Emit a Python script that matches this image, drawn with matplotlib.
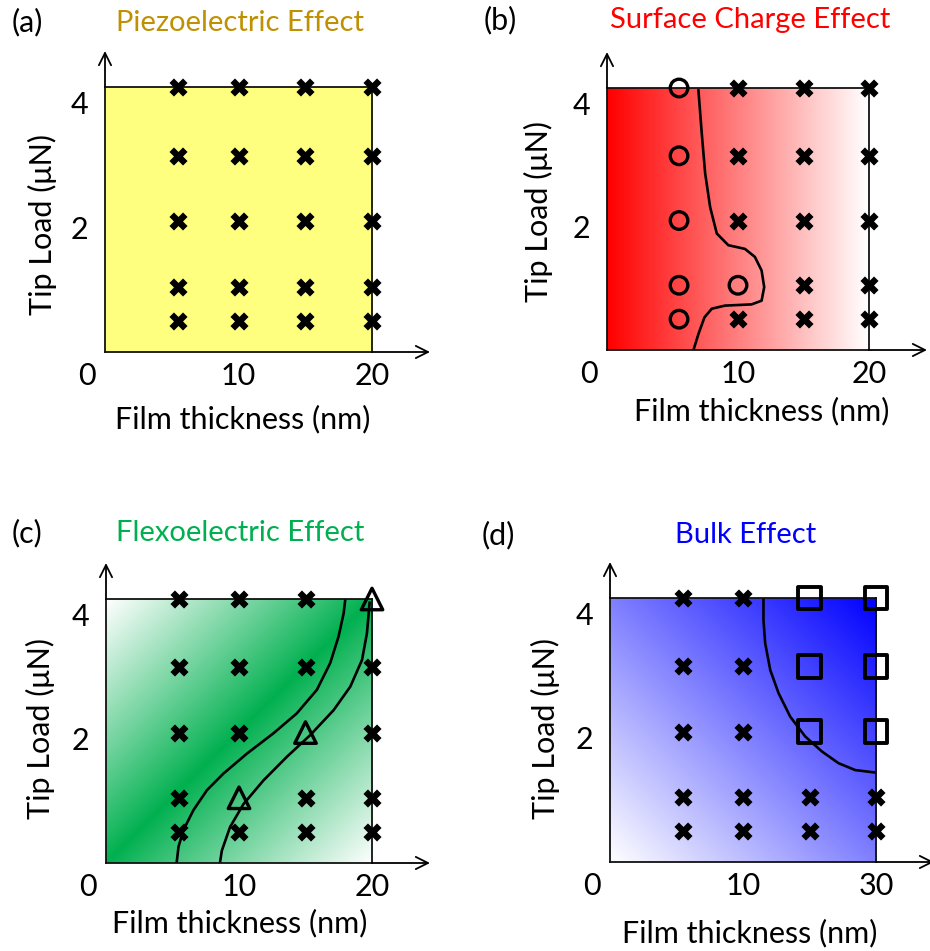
import numpy as np
import matplotlib.pyplot as plt

plt.rcParams['font.family'] = ['Lato', 'DejaVu Sans']
plt.rcParams['font.size'] = 22

# measurement grid (box spans 0..20 horizontally, 0..4.25 vertically)
thickness = [5.5, 10, 15, 20]
loads = [4.25, 3.15, 2.1, 1.05, 0.5]   # top row first

# outcome at every grid point: x = no effect, o / ^ / s = effect observed
marks_a = ["xxxx", "xxxx", "xxxx", "xxxx", "xxxx"]
marks_b = ["oxxx", "oxxx", "oxxx", "ooxx", "oxxx"]
marks_c = ["xxx^", "xxxx", "xx^x", "x^xx", "xxxx"]
marks_d = ["xxss", "xxss", "xxss", "xxxx", "xxxx"]

# phase boundaries
bound_b_x = [6.98, 7.23, 7.49, 7.87, 8.38, 9.26, 10.53, 11.29, 11.8, 12.0, 11.8, 11.04, 9.0, 8.0, 7.44, 6.98, 6.6]
bound_b_y = [4.21, 3.52, 2.87, 2.32, 1.89, 1.70, 1.64, 1.51, 1.29, 1.02, 0.80, 0.74, 0.72, 0.67, 0.53, 0.26, 0.0]

bound_c1_x = [5.32, 5.45, 5.82, 6.57, 7.58, 8.83, 10.59, 12.6, 14.35, 15.86, 16.86, 17.49, 17.87, 17.99]
bound_c1_y = [0.02, 0.26, 0.53, 0.85, 1.17, 1.44, 1.76, 2.09, 2.41, 2.79, 3.22, 3.65, 4.02, 4.24]
bound_c2_x = [8.58, 8.71, 9.33, 10.34, 11.84, 13.6, 15.36, 17.11, 18.37, 19.25, 19.62, 19.82]
bound_c2_y = [0.02, 0.2, 0.58, 0.95, 1.33, 1.71, 2.06, 2.46, 2.84, 3.27, 3.7, 4.19]

bound_d_x = [11.54, 11.54, 11.67, 12.05, 12.67, 13.55, 14.68, 15.93, 17.19, 18.44, 19.95]
bound_d_y = [4.24, 3.89, 3.52, 3.09, 2.72, 2.34, 2.02, 1.78, 1.59, 1.48, 1.44]

xtick_labels = {'a': ['10', '20'], 'b': ['10', '20'], 'c': ['10', '20'], 'd': ['10', '30']}
titles = {'a': 'Piezoelectric Effect', 'b': 'Surface Charge Effect',
          'c': 'Flexoelectric Effect', 'd': 'Bulk Effect'}
title_colors = {'a': '#BF9000', 'b': '#FF0000', 'c': '#00B050', 'd': '#0000FF'}

W, H = 930, 951
XMAX, YMAX = 20, 4.25


def px(x, y):
    return x / W, 1 - y / H


def fill_image(kind, n=300):
    u, v = np.meshgrid(np.linspace(0, 1, n), np.linspace(0, 1, n))
    white = np.array([1.0, 1.0, 1.0])
    if kind == 'a':
        col = np.array([1.0, 1.0, 0.5])
        img = np.ones((n, n, 3)) * col
    elif kind == 'b':
        col = np.array([1.0, 0.0, 0.0])
        t = u[..., None]
        img = col * (1 - t) + white * t
    elif kind == 'c':
        col = np.array([0.0, 0.69, 0.31])
        t = np.abs(u - v)[..., None] ** 0.95
        img = col * (1 - t) + white * t
    else:
        col = np.array([0.0, 0.0, 1.0])
        t = ((u + v) / 2)[..., None]
        img = white * (1 - t) + col * t
    return img


# panel boxes in pixels: left, top, right, bottom
boxes = {'a': (105, 87, 372, 352), 'b': (607, 88, 869, 350),
         'c': (106, 599, 372, 863), 'd': (610, 598, 876, 862)}
xlabel_pos = {'a': (0.517, -0.2), 'b': (0.59, -0.18), 'c': (0.504, -0.175), 'd': (0.526, -0.215)}
ylabel_pos = {'a': (-0.18, 0.483), 'b': (-0.206, 0.527), 'c': (-0.19, 0.508), 'd': (-0.188, 0.504)}
title_pos = {'a': (240, 23), 'b': (750, 20), 'c': (240, 533), 'd': (746, 535)}
letter_pos = {'a': (27, 22), 'b': (500, 20), 'c': (27, 533), 'd': (498, 535)}

marker_style = {
    'x': dict(marker='X', s=170, c='black', linewidths=0),
    'o': dict(marker='o', s=160, facecolors='none', edgecolors='black', linewidths=2.4),
    '^': dict(marker='^', s=240, facecolors='none', edgecolors='black', linewidths=2.4),
    's': dict(marker='s', s=270, facecolors='none', edgecolors='black', linewidths=2.8),
}

marks = {'a': marks_a, 'b': marks_b, 'c': marks_c, 'd': marks_d}
curves = {'a': [], 'b': [(bound_b_x, bound_b_y)],
          'c': [(bound_c1_x, bound_c1_y), (bound_c2_x, bound_c2_y)],
          'd': [(bound_d_x, bound_d_y)]}

fig = plt.figure(figsize=(9.3, 9.51), dpi=100)

for key in 'abcd':
    l, t, r, b = boxes[key]
    ax = fig.add_axes([l / W, 1 - b / H, (r - l) / W, (b - t) / H])
    ax.imshow(fill_image(key), extent=(0, XMAX, 0, YMAX), origin='lower',
              aspect='auto', zorder=0, interpolation='bilinear')
    ax.set_xlim(0, XMAX)
    ax.set_ylim(0, YMAX)

    for xs, ys in curves[key]:
        ax.plot(xs, ys, color='black', lw=1.9, zorder=2)

    grid = marks[key]
    for row, load in zip(grid, loads):
        for sym, th in zip(row, thickness):
            ax.scatter([th], [load], zorder=3, clip_on=False, **marker_style[sym])

    for sp in ax.spines.values():
        sp.set_linewidth(1.3)
        sp.set_color('#111111')

    ax.set_xticks([10, 20])
    ax.set_xticklabels(xtick_labels[key])
    ax.set_yticks([2, 4])
    ax.set_yticklabels(['2', '4'])
    ax.tick_params(axis='x', length=0, pad=7)
    ax.tick_params(axis='y', length=0, pad=12)

    ax.annotate('0', xy=(0, 0), xycoords='axes fraction', xytext=(-13, -17),
                textcoords='offset points', ha='center', va='center')

    ax.set_xlabel('Film thickness (nm)')
    ax.xaxis.set_label_coords(*xlabel_pos[key])
    ax.set_ylabel('Tip Load (μN)')
    ax.yaxis.set_label_coords(*ylabel_pos[key])

    # axis arrows
    h = b - t
    w = r - l
    ax.annotate('', xy=(0, 1 + 36 / h), xytext=(0, 1), xycoords='axes fraction',
                arrowprops=dict(arrowstyle='->', lw=1.3, mutation_scale=22,
                                shrinkA=0, shrinkB=0))
    ax.annotate('', xy=(1 + 58 / w, 0), xytext=(1, 0), xycoords='axes fraction',
                arrowprops=dict(arrowstyle='->', lw=1.3, mutation_scale=22,
                                shrinkA=0, shrinkB=0))

    fig.text(*px(*title_pos[key]), titles[key], color=title_colors[key],
             ha='center', va='center', fontsize=21)
    fig.text(*px(*letter_pos[key]), '(%s)' % key, ha='center', va='center', fontsize=22)

fig.savefig('out.png', dpi=100)
